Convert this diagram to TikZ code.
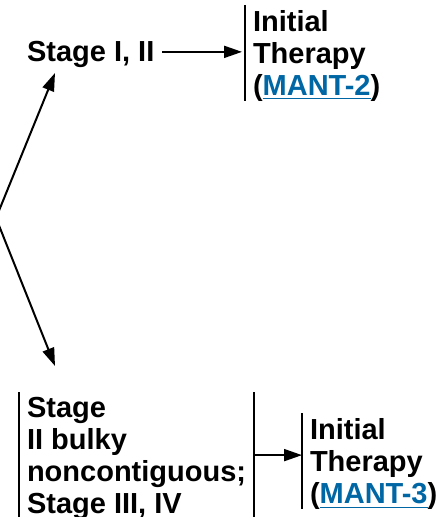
\documentclass[tikz,border=0pt]{standalone}
\usepackage{fontspec}
\setmainfont{Liberation Sans}
\usepackage{tikz}
\usetikzlibrary{arrows.meta}
\definecolor{linkblue}{RGB}{0,102,164}
\newcommand{\mantlink}[1]{\textcolor{linkblue}{\underline{#1}}}

\begin{document}
\begin{tikzpicture}[x=1pt, y=1pt, line width=1pt,
    >={Triangle[length=9pt,width=6pt]},
    every node/.style={font=\fontsize{14.5}{16.2}\selectfont\bfseries,
      inner xsep=3.5pt, inner ysep=2pt, align=left}]
    \useasboundingbox (0,0) rectangle (220,-258.5);
    \clip (0,0) rectangle (220,-258.5);

    \coordinate (mcl) at (-2,-109);

    \node[anchor=base west, text depth=0pt] (stage12) at (9.5,-31) {Stage I, II};
    \node[anchor=north west] (ther2) at (122.5,-2.5) {Initial\\Therapy\\\smash{(\mantlink{MANT-2})}};
    \draw (ther2.north west) -- (ther2.south west);
    \draw[->, shorten >=1.5pt] (stage12) -- (stage12 -| ther2.west);

    \node[anchor=north west, font=\fontsize{14.5}{16}\selectfont\bfseries] (bulky) at (9.5,-196) {Stage\\II bulky\\noncontiguous;\\\smash{Stage III, IV}};
    \draw (bulky.north west) -- (bulky.south west);
    \draw (bulky.north east) -- (bulky.south east);

    \node[anchor=north west] (ther3) at (151,-206.5) {Initial\\Therapy\\\smash{(\mantlink{MANT-3})}};
    \draw (ther3.north west) -- (ther3.south west);
    \draw[->] (bulky.east) -- (bulky.east -| ther3.west);

    \draw[->] (mcl) -- ([shift={(18pt,-3pt)}]stage12.south west);
    \draw[->] (mcl) -- ([shift={(18pt,13pt)}]bulky.north west);
\end{tikzpicture}
\end{document}
